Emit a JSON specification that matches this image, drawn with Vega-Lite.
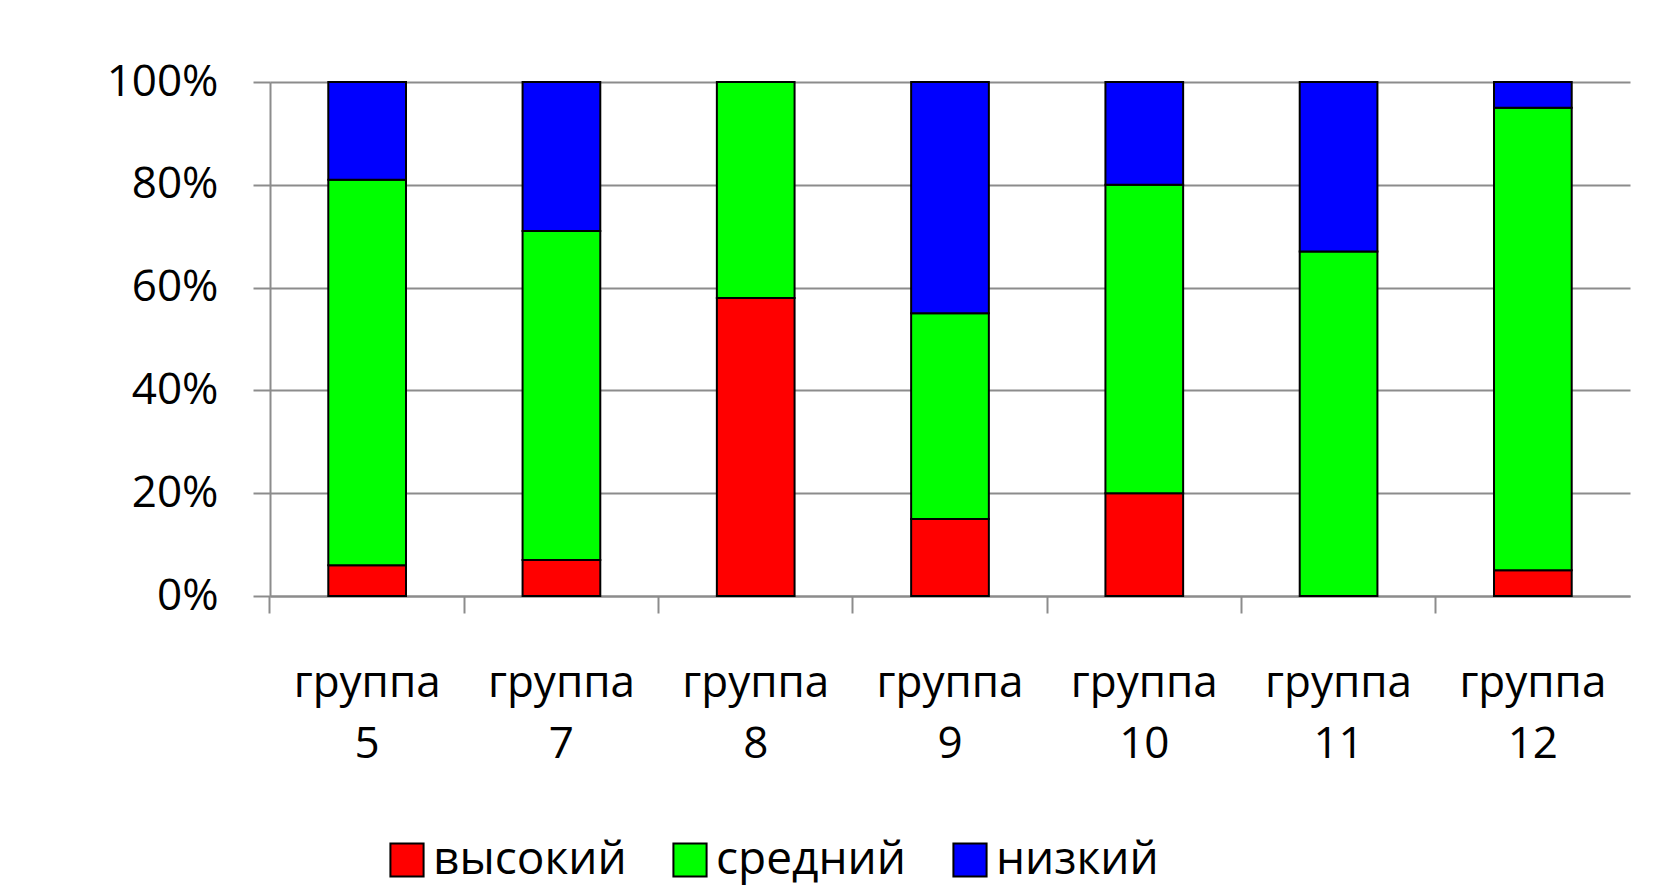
{
  "$schema": "https://vega.github.io/schema/vega-lite/v6.json",
  "autosize": {"type": "none"},
  "padding": {"left": 270, "top": 82, "right": 50, "bottom": 290},
  "width": 1360,
  "height": 514,
  "background": "white",
  "data": {
    "values": [
      {"group": "группа 5", "level": "высокий", "ord": 1, "pct": 6},
      {"group": "группа 5", "level": "средний", "ord": 2, "pct": 75},
      {"group": "группа 5", "level": "низкий", "ord": 3, "pct": 19},
      {"group": "группа 7", "level": "высокий", "ord": 1, "pct": 7},
      {"group": "группа 7", "level": "средний", "ord": 2, "pct": 64},
      {"group": "группа 7", "level": "низкий", "ord": 3, "pct": 29},
      {"group": "группа 8", "level": "высокий", "ord": 1, "pct": 58},
      {"group": "группа 8", "level": "средний", "ord": 2, "pct": 42},
      {"group": "группа 8", "level": "низкий", "ord": 3, "pct": 0},
      {"group": "группа 9", "level": "высокий", "ord": 1, "pct": 15},
      {"group": "группа 9", "level": "средний", "ord": 2, "pct": 40},
      {"group": "группа 9", "level": "низкий", "ord": 3, "pct": 45},
      {"group": "группа 10", "level": "высокий", "ord": 1, "pct": 20},
      {"group": "группа 10", "level": "средний", "ord": 2, "pct": 60},
      {"group": "группа 10", "level": "низкий", "ord": 3, "pct": 20},
      {"group": "группа 11", "level": "высокий", "ord": 1, "pct": 0},
      {"group": "группа 11", "level": "средний", "ord": 2, "pct": 67},
      {"group": "группа 11", "level": "низкий", "ord": 3, "pct": 33},
      {"group": "группа 12", "level": "высокий", "ord": 1, "pct": 5},
      {"group": "группа 12", "level": "средний", "ord": 2, "pct": 90},
      {"group": "группа 12", "level": "низкий", "ord": 3, "pct": 5}
    ]
  },
  "mark": {"type": "bar", "stroke": "black", "strokeWidth": 2},
  "encoding": {
    "x": {
      "field": "group",
      "type": "nominal",
      "sort": null,
      "scale": {"paddingInner": 0.6, "paddingOuter": 0.3},
      "axis": {
        "title": null,
        "labelAngle": 0,
        "labelExpr": "split(datum.value, ' ')",
        "bandPosition": -0.75,
        "labelDx": 97,
        "labelFont": "Open Sans",
        "labelFontSize": 44,
        "labelColor": "black",
        "labelLineHeight": 61,
        "labelPadding": 48,
        "labelLimit": 0,
        "tickSize": 17,
        "tickColor": "#8c8c8c",
        "tickWidth": 2,
        "domainColor": "#8c8c8c",
        "domainWidth": 2,
        "grid": false
      }
    },
    "y": {
      "field": "pct",
      "type": "quantitative",
      "stack": "zero",
      "scale": {"domain": [0, 100]},
      "axis": {
        "title": null,
        "values": [0, 20, 40, 60, 80, 100],
        "labelExpr": "datum.value + '%'",
        "labelFont": "Open Sans",
        "labelFontSize": 44,
        "labelColor": "black",
        "labelPadding": 35,
        "tickSize": 17,
        "tickColor": "#8c8c8c",
        "tickWidth": 2,
        "domainColor": "#8c8c8c",
        "domainWidth": 2,
        "grid": true,
        "gridColor": "#8c8c8c",
        "gridWidth": 2
      }
    },
    "color": {
      "field": "level",
      "type": "nominal",
      "sort": ["высокий", "средний", "низкий"],
      "scale": {"domain": ["высокий", "средний", "низкий"], "range": ["#FF0000", "#00FF00", "#0000FF"]},
      "legend": {
        "title": null,
        "orient": "none",
        "legendX": 114,
        "legendY": 755,
        "direction": "horizontal",
        "symbolType": "square",
        "symbolSize": 1100,
        "symbolStrokeColor": "black",
        "symbolStrokeWidth": 2,
        "symbolOpacity": 1,
        "labelFont": "Open Sans",
        "labelFontSize": 46,
        "labelLimit": 0,
        "labelColor": "black",
        "labelOffset": 3,
        "columnPadding": 40
      }
    },
    "order": {"field": "ord", "type": "quantitative"}
  },
  "config": {"view": {"stroke": null}}
}
